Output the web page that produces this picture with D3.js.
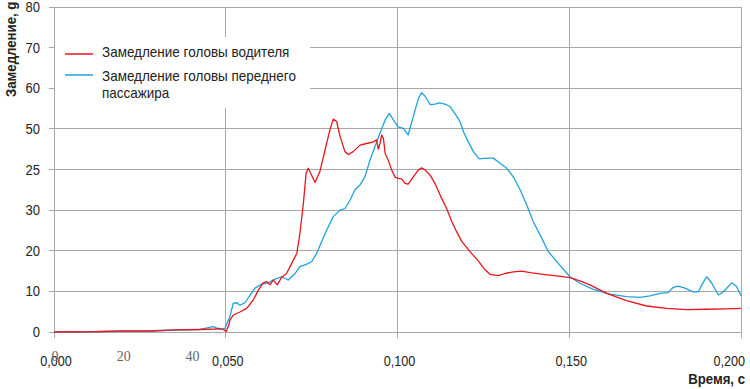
<!DOCTYPE html>
<html><head><meta charset="utf-8">
<script src="https://cdn.jsdelivr.net/npm/d3@7"></script>
<style>
body{margin:0;background:#fff;}
.s{font-family:"Liberation Sans",Arial,sans-serif;}
.serif{font-family:"Liberation Serif","Times New Roman",serif;}
</style></head>
<body><svg id="c" width="750" height="389"></svg>
<script>
// Data
const driverT = [0,0.005,0.01,0.0134,0.02,0.0279,0.035,0.0425,0.0469,0.0483,0.0495,0.0501,0.0509,0.0512,0.0522,0.0541,0.0561,0.0580,0.0595,0.0609,0.0619,0.0629,0.0638,0.0650,0.0663,0.0677,0.0692,0.0707,0.0716,0.0726,0.0734,0.0740,0.0750,0.0760,0.0774,0.0789,0.0803,0.0813,0.0823,0.0833,0.0847,0.0857,0.0871,0.0891,0.0910,0.0930,0.0939,0.0944,0.0949,0.0954,0.0959,0.0964,0.0973,0.0983,0.0993,0.1002,0.1012,0.1022,0.1031,0.1046,0.1061,0.1070,0.1080,0.1095,0.1109,0.1124,0.1143,0.1158,0.1172,0.1187,0.1211,0.1235,0.1255,0.1269,0.1293,0.1313,0.1337,0.1362,0.1386,0.1424,0.1463,0.1502,0.1531,0.1560,0.1609,0.1667,0.1725,0.1784,0.1842,0.1900,0.1958,0.2000];
const driverG = [0,0.1,0.05,0.12,0.3,0.25,0.5,0.62,0.74,0.86,0.49,0.12,1.72,2.95,4.18,4.92,5.83,7.88,10.3,12.1,12.4,11.6,12.8,11.6,13.5,14.4,16.9,19.4,24.3,31.7,39.1,40.3,38.6,36.8,39.5,44.8,49.7,52.4,51.8,48.1,44.4,43.7,44.4,46.0,46.4,46.8,47.3,45.0,46.4,48.5,47.7,44.0,42.3,39.9,38.1,37.8,37.7,36.6,36.4,38.2,39.9,40.4,39.9,38.6,36.6,33.7,30.4,27.2,24.7,22.3,19.8,17.5,15.3,14.2,13.9,14.4,14.8,15.0,14.6,14.2,13.8,13.4,12.6,11.6,9.5,7.7,6.4,5.8,5.5,5.6,5.7,5.8];

const passT = [0,0.01,0.02,0.0279,0.035,0.0425,0.0464,0.0483,0.0498,0.0512,0.0522,0.0532,0.0541,0.0556,0.0571,0.0585,0.0605,0.0624,0.0643,0.0663,0.0682,0.0702,0.0716,0.0736,0.0750,0.0765,0.0779,0.0794,0.0813,0.0833,0.0847,0.0862,0.0876,0.0891,0.0905,0.0920,0.0934,0.0949,0.0964,0.0976,0.0988,0.1002,0.1017,0.1031,0.1046,0.1061,0.1070,0.1080,0.1095,0.1109,0.1122,0.1138,0.1153,0.1167,0.1182,0.1192,0.1206,0.1221,0.1238,0.1260,0.1279,0.1293,0.1318,0.1337,0.1357,0.1376,0.1395,0.1415,0.1439,0.1468,0.1502,0.1531,0.1570,0.1619,0.1667,0.1706,0.1735,0.1764,0.1788,0.1803,0.1817,0.1837,0.1861,0.1876,0.1886,0.1900,0.1915,0.1934,0.1949,0.1973,0.1987,0.2000];
const passG = [0,0.05,0.2,0.25,0.45,0.62,1.3,0.66,0.91,3.8,7.1,7.2,6.6,7.2,9.1,10.8,11.8,12.1,13.0,13.6,12.8,14.4,16.1,16.7,17.3,19.4,22.2,25.1,28.4,30.0,30.4,32.5,35.0,36.2,38.2,42.3,45.6,48.9,52.2,53.8,52.2,50.5,50.1,48.5,53.0,57.5,58.9,58.1,56.0,56.1,56.4,56.1,55.5,53.8,51.8,49.3,46.8,44.4,42.6,42.8,42.8,41.9,40.3,38.2,35.0,31.3,27.2,23.9,19.8,16.9,13.6,12.0,10.5,9.3,8.7,8.5,8.9,9.5,9.7,11.0,11.3,10.8,9.9,9.9,11.6,13.6,12.0,9.1,9.9,12.1,11.2,8.9];

const yTicks = [0,10,20,30,40,50,60,70,80];
const yTickLabels = ["0","10","20","30","25","50","60","70","80"];
const xTicks = [0,0.05,0.1,0.15,0.2];
const xTickLabels = ["0,000","0,050","0,100","0,150","0,200"];
const msTicks = [0,20,40];
const seriesNames = ["Замедление головы водителя","Замедление головы переднего|пассажира"];
const seriesColors = ["#e8141e","#1fa2dc"];

const svg = d3.select("#c");
const x = d3.scaleLinear().domain([0,0.2]).range([54,741]);
const xms = d3.scaleLinear().domain([0,200]).range([54,741]);
const y = d3.scaleLinear().domain([0,80]).range([332,7]);
const grid = "#a8a8a8";

// condensed text helper
function ctext(parent, tx, ty, str, size, sx, anchor, weight, rot){
  return parent.append("text").attr("class","s")
    .attr("transform",`translate(${tx},${ty})${rot?` rotate(${rot})`:""} scale(${sx},1)`)
    .attr("font-size",size).attr("font-weight",weight||"normal")
    .attr("text-anchor",anchor||"start").attr("fill","#222").text(str);
}

// horizontal gridlines
svg.append("g").selectAll("line").data(yTicks).join("line")
  .attr("x1",49).attr("x2",741).attr("y1",d=>y(d)).attr("y2",d=>y(d))
  .attr("stroke",grid).attr("stroke-width",1).attr("shape-rendering","crispEdges");
// vertical gridlines
svg.append("g").selectAll("line").data(xTicks).join("line")
  .attr("x1",d=>x(d)).attr("x2",d=>x(d)).attr("y1",y(80)).attr("y2",338)
  .attr("stroke",grid).attr("stroke-width",1).attr("shape-rendering","crispEdges");

// legend background
svg.append("rect").attr("x",55).attr("y",37).attr("width",255).attr("height",71).attr("fill","#fff");

// y tick labels
const gy = svg.append("g");
yTicks.forEach((d,i)=>ctext(gy, 40, y(d)+5, yTickLabels[i], 14.5, 0.9, "end"));
// x tick labels
const gx = svg.append("g");
xTicks.forEach((d,i)=>ctext(gx, i===4?745:x(d)+2, 366, xTickLabels[i], 14.5, 0.87, i===4?"end":"middle"));
// secondary ms labels
svg.append("g").selectAll("text").data(msTicks).join("text").attr("class","serif")
  .attr("x",d=>xms(d)+1).attr("y",361).attr("text-anchor","middle")
  .attr("font-size",14).attr("fill","#666").text(d=>d);

// axis titles
ctext(svg, 16, 97, "Замедление, g", 15, 0.88, "start", "bold", -90);
ctext(svg, 745, 384, "Время, с", 15, 0.88, "end", "bold");

// lines
const line = d3.line().x(d=>x(d[0])).y(d=>y(d[1]));
const series = [d3.zip(driverT,driverG), d3.zip(passT,passG)];
svg.append("path").datum(series[1]).attr("d",line).attr("fill","none")
  .attr("stroke",seriesColors[1]).attr("stroke-width",1.3).attr("stroke-linejoin","round");
svg.append("path").datum(series[0]).attr("d",line).attr("fill","none")
  .attr("stroke",seriesColors[0]).attr("stroke-width",1.3).attr("stroke-linejoin","round");

// legend
const leg = svg.append("g");
const legLineY = [54,75], legTextY = [57,81];
seriesNames.forEach((name,i)=>{
  leg.append("line").attr("x1",65).attr("x2",93).attr("y1",legLineY[i]).attr("y2",legLineY[i])
    .attr("stroke",seriesColors[i]).attr("stroke-width",1.5);
  name.split("|").forEach((s,j)=>ctext(leg, 102, legTextY[i]+j*17, s, 15, 0.9, "start"));
});
</script></body></html>
